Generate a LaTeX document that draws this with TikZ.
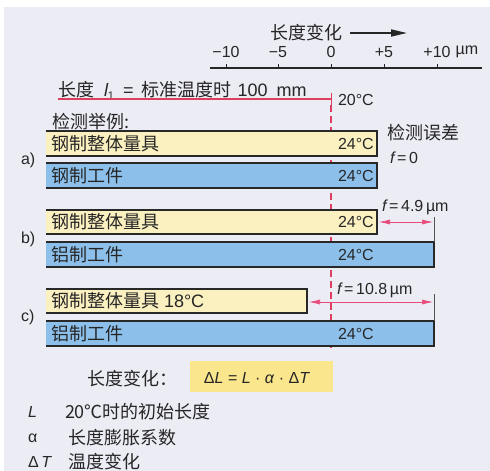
\documentclass[tikz,border=0pt]{standalone}
\usepackage{fontspec}
\setmainfont{Liberation Sans}
\newfontfamily\cjkfont{Noto Sans CJK SC}
\usetikzlibrary{arrows.meta}
\definecolor{bgc}{RGB}{236,236,245}
\definecolor{barY}{RGB}{251,240,192}
\definecolor{barB}{RGB}{140,192,234}
\definecolor{redc}{RGB}{222,62,96}
\definecolor{pinkc}{RGB}{232,72,122}
\definecolor{formY}{RGB}{250,230,140}
\definecolor{edgec}{RGB}{40,40,40}
\definecolor{textc}{RGB}{38,38,38}
\newcommand\mybar[4]{%
  \fill[#4] (46,#2) rectangle (#1,#3);
  \draw[barline] (46,#2) -- (#1,#2) -- (#1,#3) -- (46,#3);}
\begin{document}
\begin{tikzpicture}[x=1pt,y=-1pt,
  every node/.style={inner sep=0pt,outer sep=0pt,text=textc},
  zh/.style={font=\cjkfont\fontsize{18}{20}\selectfont},
  lat/.style={font=\fontsize{16}{18}\selectfont},
  barline/.style={draw=edgec,line width=1.5pt},
  axisline/.style={draw=textc,line width=1.4pt},
  reddash/.style={draw=redc,line width=1.1pt,dash pattern=on 7pt off 4pt},
  farrow/.style={draw=pinkc,line width=0.6pt,{Latex[length=11pt,width=5pt]}-{Latex[length=11pt,width=5pt]}},
  grayline/.style={draw=textc!80,line width=0.8pt}]
\useasboundingbox (0,0) rectangle (490,471);
\fill[bgc] (0,0) rectangle (490,471);
\fill[white] (0,0) rectangle (490,7);
\fill[white] (0,0) rectangle (4,471);
% axis
\node[zh] (chg) at (306,33) {长度变化};
\coordinate (arS) at (350,33);
\coordinate (arE) at (407,33);
\draw[draw=textc,line width=1.8pt,-{Triangle[length=16pt,width=7pt]}] (arS) -- (arE);
\coordinate (axL) at (210,68);
\coordinate (axR) at (482,68);
\draw[axisline] (axL) -- (axR);
\foreach \x in {226,278,331,384,437} \draw[axisline,line width=1pt] (\x,64) -- (\x,68);
\node[lat] (tm10) at (226,52) {−10};
\node[lat] (tm5) at (278,52) {−5};
\node[lat] (t0) at (331,52) {0};
\node[lat] (tp5) at (384,52) {+5};
\node[lat] (tp10) at (437,52) {+10};
\node[lat,anchor=west] (tum) at ([xshift=5pt]tp10.east) {µm};
% header
\node[zh,anchor=west] (head) at (58,90) {长度\hspace{10pt}{\fontspec{Liberation Sans}\itshape l}{\fontspec{Liberation Sans}\fontsize{11}{12}\selectfont\raisebox{-3pt}{1}}\hspace{9pt}{\fontspec{Liberation Sans}=}\hspace{8pt}标准温度时\hspace{6pt}{\fontspec{Liberation Sans}100\hspace{9pt}mm}};
\coordinate (rlL) at (58,99);
\coordinate (rlR) at (331,99);
\draw[draw=redc,line width=1.2pt] (rlL) -- (rlR);
\coordinate (tkT) at (331,93);
\coordinate (tkB) at (331,105);
\draw[draw=redc,line width=1pt] (tkT) -- (tkB);
\node[lat,anchor=west] (t20) at (338,100) {20°C};
\coordinate (dashB) at (331,348);
\draw[reddash] (tkB) -- (dashB);
\node[zh,anchor=west] (exam) at (52,122) {检测举例\hspace{1pt}:};
% a
\mybar{377}{131}{156}{barY}
\mybar{377}{163}{188}{barB}
\node[lat,anchor=west] (la) at (21,160) {a)};
\node[zh,anchor=west] (ga) at (51,143.5) {钢制整体量具};
\node[zh,anchor=west] (wa) at (51,175.5) {钢制工件};
\node[lat,anchor=west] (ta1) at (338,143.5) {24°C};
\node[lat,anchor=west] (ta2) at (338,175.5) {24°C};
\node[zh,anchor=west] (err) at (387,133) {检测误差};
\node[lat,anchor=west] (f0) at (390,158) {\itshape f\upshape\,=\,0};
% b
\mybar{377}{210}{234}{barY}
\mybar{434}{242}{267}{barB}
\node[lat,anchor=west] (lb) at (21,239) {b)};
\node[zh,anchor=west] (gb) at (51,222) {钢制整体量具};
\node[zh,anchor=west] (wb) at (51,254.5) {铝制工件};
\node[lat,anchor=west] (tb1) at (338,222) {24°C};
\node[lat,anchor=west] (tb2) at (338,254.5) {24°C};
\node[lat,anchor=west] (fb) at (382,207) {\itshape f\upshape\,=\,4.9\,µm};
\coordinate (bL) at (379,222);
\coordinate (bR) at (433,222);
\draw[farrow] (bL) -- (bR);
\coordinate (bvT) at (434,217);
\coordinate (bvB) at (434,242);
\draw[grayline] (bvT) -- (bvB);
% c
\mybar{307}{289}{313}{barY}
\mybar{434}{321}{346}{barB}
\node[lat,anchor=west] (lc) at (21,317.5) {c)};
\node[zh,anchor=west] (gc) at (51,301) {钢制整体量具\hspace{5pt}{\fontspec{Liberation Sans}18°C}};
\node[zh,anchor=west] (wc) at (51,333.5) {铝制工件};
\node[lat,anchor=west] (tc2) at (338,333.5) {24°C};
\node[lat,anchor=west] (fc) at (337,290) {\itshape f\upshape\,=\,10.8\,µm};
\coordinate (cL) at (309,302);
\coordinate (cR) at (433,302);
\draw[farrow] (cL) -- (cR);
\coordinate (cvT) at (434,294);
\coordinate (cvB) at (434,321);
\draw[grayline] (cvT) -- (cvB);
% formula
\node[zh,anchor=west] (lchg) at (87,379) {长度变化：};
\node[fill=formY,minimum width=143pt,minimum height=31pt] (fbox) at (261.5,376.5) {};
\node[lat] (form) at (257,378) {Δ\textit{L} = \textit{L} · \textit{α} · Δ\textit{T}};
% legend
\node[lat,anchor=west] (sL) at (28,412) {\itshape L};
\node[zh,anchor=west] (dL) at (65,412) {20℃时的初始长度};
\node[lat,anchor=west] (sa) at (28,438) {α};
\node[zh,anchor=west] (da) at (68,438) {长度膨胀系数};
\node[lat,anchor=west] (sT) at (28,462) {Δ\,\textit{T}};
\node[zh,anchor=west] (dT) at (68,462) {温度变化};
\end{tikzpicture}
\end{document}
